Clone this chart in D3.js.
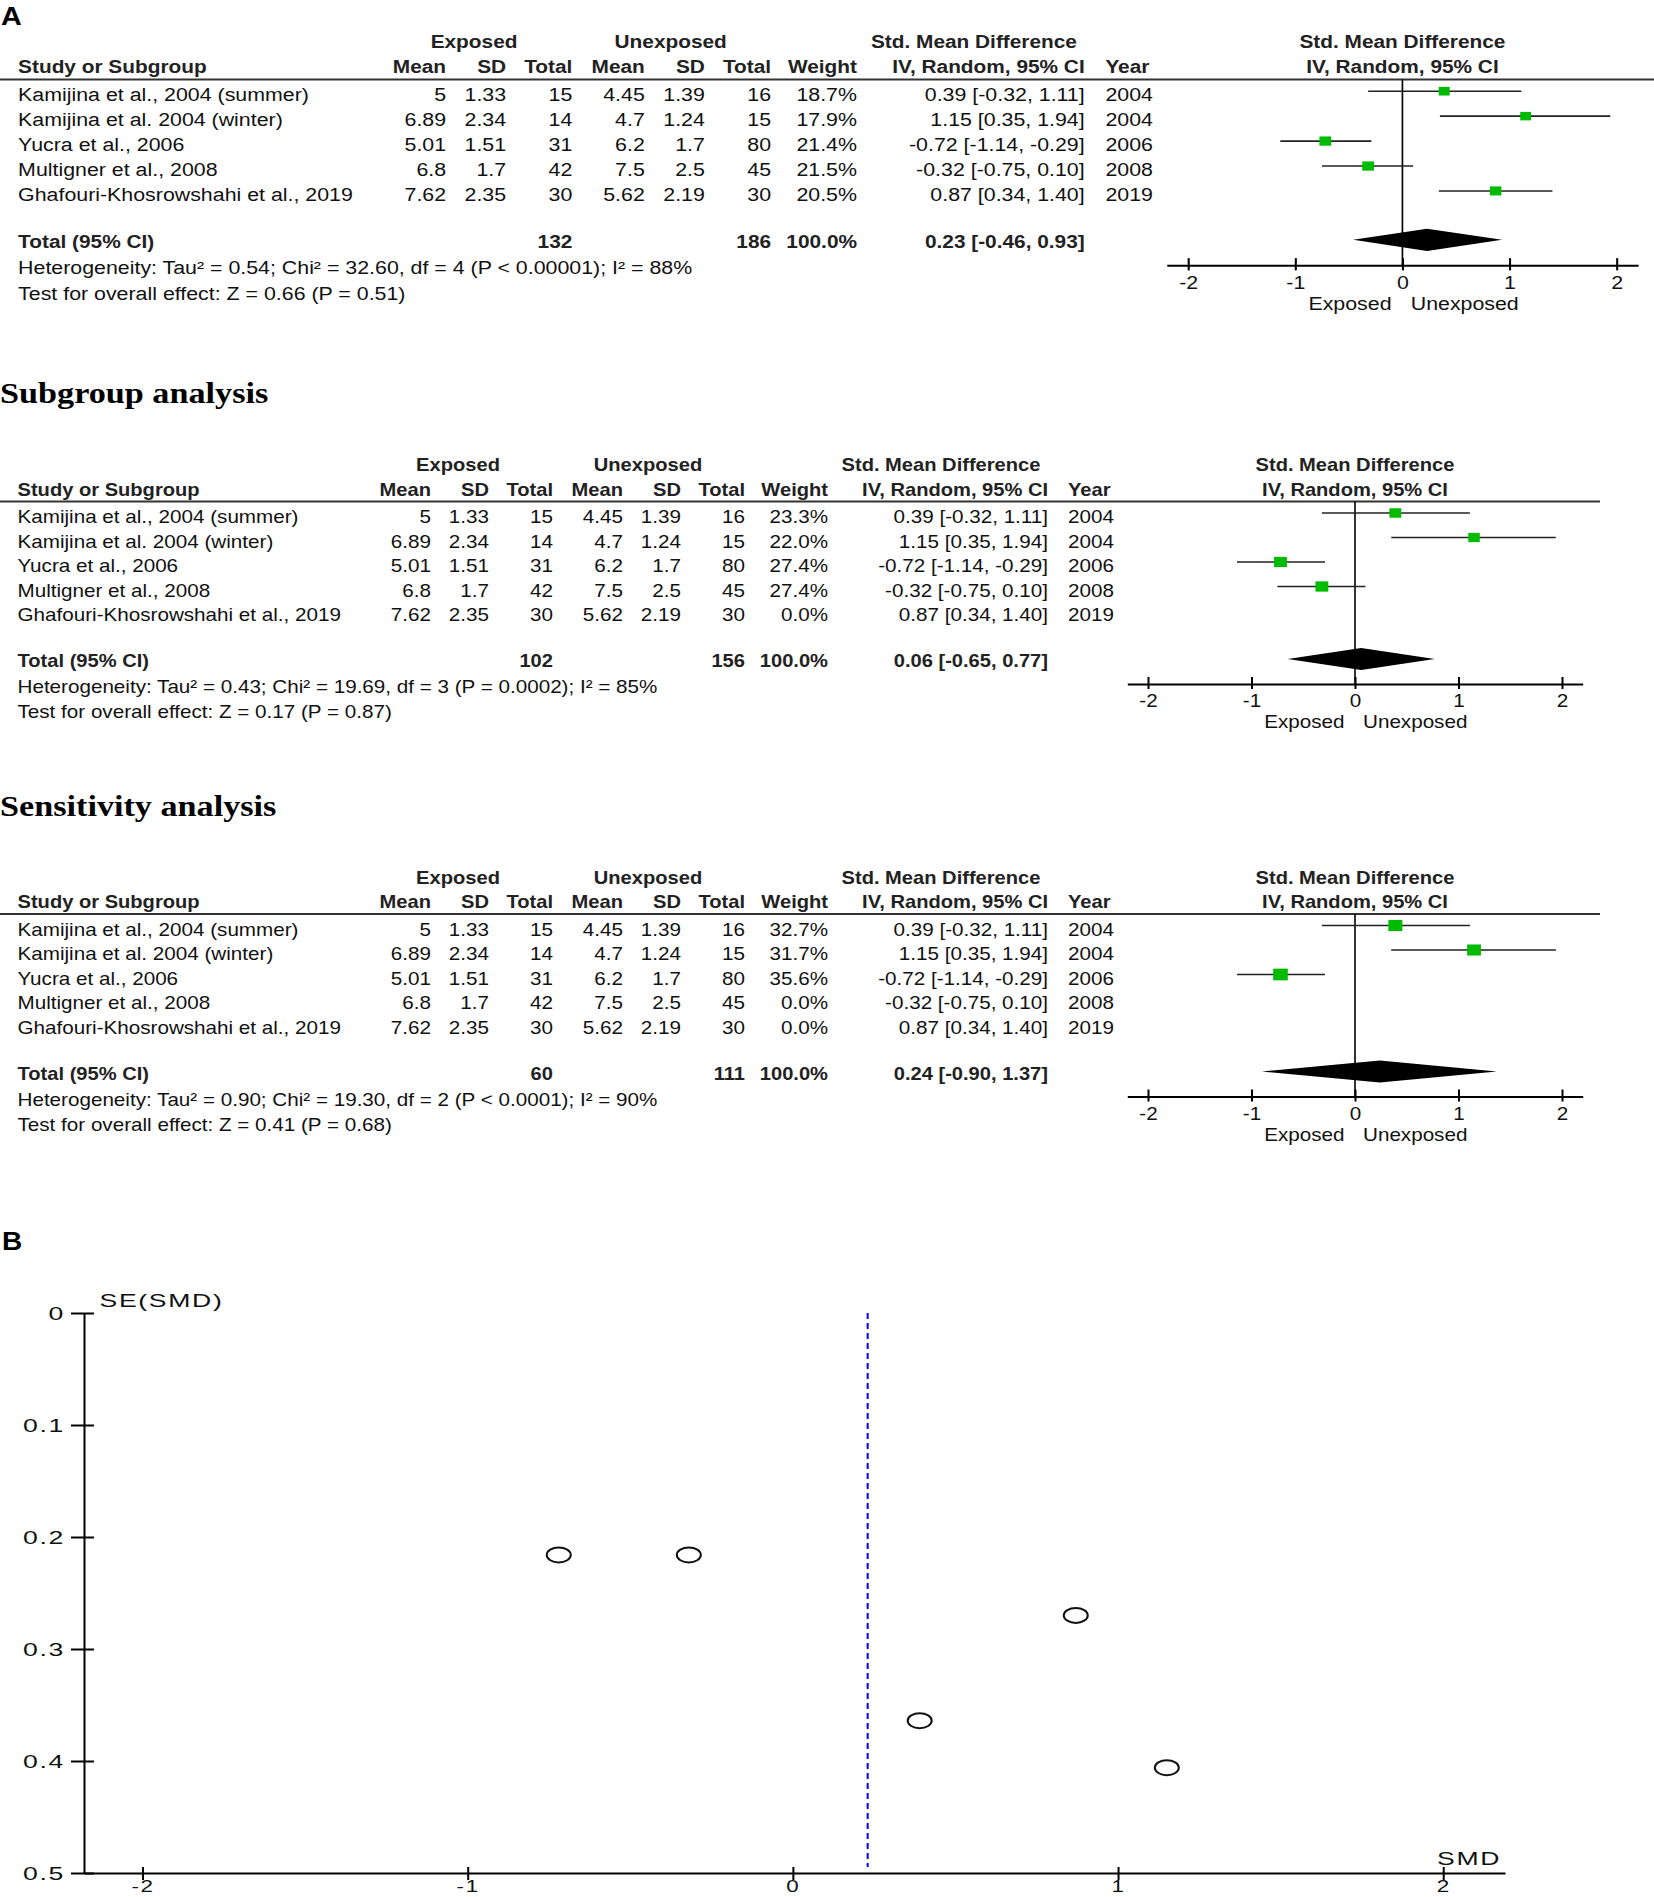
<!DOCTYPE html>
<html lang="en">
<head>
<meta charset="UTF-8">
<title>Forest plots and funnel plot</title>
<script src="https://cdn.jsdelivr.net/npm/d3@7"></script>
<style>
    body { margin: 0; background: #fff; }
    svg { display: block; font-family: "Liberation Sans", Arial, sans-serif; }
</style>
</head>
<body>
<svg id="fig" width="1654" height="1897"></svg>
<script>
    // donnees
    let studies = ['Kamijina et al., 2004 (summer)', 'Kamijina et al. 2004 (winter)', 'Yucra et al., 2006',
        'Multigner et al., 2008', 'Ghafouri-Khosrowshahi et al., 2019'];
    let expMean = [5, 6.89, 5.01, 6.8, 7.62];
    let expSD = [1.33, 2.34, 1.51, 1.7, 2.35];
    let expN = [15, 14, 31, 42, 30];
    let unMean = [4.45, 4.7, 6.2, 7.5, 5.62];
    let unSD = [1.39, 1.24, 1.7, 2.5, 2.19];
    let unN = [16, 15, 80, 45, 30];
    let smd = [0.39, 1.15, -0.72, -0.32, 0.87];
    let ciLo = [-0.32, 0.35, -1.14, -0.75, 0.34];
    let ciHi = [1.11, 1.94, -0.29, 0.10, 1.40];
    let years = [2004, 2004, 2006, 2008, 2019];
    let se = [0.364, 0.406, 0.216, 0.216, 0.270];

    let weightsAll = [18.7, 17.9, 21.4, 21.5, 20.5];
    let weightsSub = [23.3, 22.0, 27.4, 27.4, 0.0];
    let weightsSens = [32.7, 31.7, 35.6, 0.0, 0.0];

    let poolAll = {est: 0.23, lo: -0.46, hi: 0.93, nExp: 132, nUn: 186,
        het: 'Heterogeneity: Tau\u00b2 = 0.54; Chi\u00b2 = 32.60, df = 4 (P < 0.00001); I\u00b2 = 88%',
        test: 'Test for overall effect: Z = 0.66 (P = 0.51)'};
    let poolSub = {est: 0.06, lo: -0.65, hi: 0.77, nExp: 102, nUn: 156,
        het: 'Heterogeneity: Tau\u00b2 = 0.43; Chi\u00b2 = 19.69, df = 3 (P = 0.0002); I\u00b2 = 85%',
        test: 'Test for overall effect: Z = 0.17 (P = 0.87)'};
    let poolSens = {est: 0.24, lo: -0.90, hi: 1.37, nExp: 60, nUn: 111,
        het: 'Heterogeneity: Tau\u00b2 = 0.90; Chi\u00b2 = 19.30, df = 2 (P < 0.0001); I\u00b2 = 90%',
        test: 'Test for overall effect: Z = 0.41 (P = 0.68)'};

    let forestTicks = [-2, -1, 0, 1, 2];
    let funnelXTicks = [-2, -1, 0, 1, 2];
    let funnelYTicks = [0, 0.1, 0.2, 0.3, 0.4, 0.5];

    let svg = d3.select('#fig');
    let SX = 1.18, SXB = 1.15, FS = 17.5;
    let f2 = v => v.toFixed(2);

    function txt(g, x, y, s, anchor, bold, size, sx) {
        return g.append('text')
            .attr('transform', `translate(${x},${y}) scale(${sx || (bold ? SXB : SX)},1)`)
            .attr('text-anchor', anchor || 'start')
            .style('font-size', (size || FS) + 'px')
            .style('font-weight', bold ? 'bold' : 'normal')
            .attr('fill', bold ? '#222' : '#111')
            .text(s);
    }

    // colonnes du tableau (panneau de base)
    let col = {study: 17.5, eMean: 431, eSD: 489, eN: 553, uMean: 623, uSD: 681, uN: 745,
        w: 828, ci: 1048, year: 1068, hExp: 458, hUn: 648, hSmd: 941};
    let xF = d3.scaleLinear().domain([-2.2, 2.2]).range([1127.3, 1582.7]);
    let rowY = i => 21.5 + 24.5 * i;
    let sq = d3.scaleSqrt().domain([0, 40]).range([0, 15.5]);

    function forest(top, sx, sy, weights, pool) {
        let g = svg.append('g').attr('transform', `translate(0,${top}) scale(${sx},${sy})`);

        txt(g, col.hExp, -30.5, 'Exposed', 'middle', true);
        txt(g, col.hUn, -30.5, 'Unexposed', 'middle', true);
        txt(g, col.hSmd, -30.5, 'Std. Mean Difference', 'middle', true);
        txt(g, xF(0), -30.5, 'Std. Mean Difference', 'middle', true);

        txt(g, col.study, -6, 'Study or Subgroup', 'start', true);
        txt(g, col.eMean, -6, 'Mean', 'end', true);
        txt(g, col.eSD, -6, 'SD', 'end', true);
        txt(g, col.eN, -6, 'Total', 'end', true);
        txt(g, col.uMean, -6, 'Mean', 'end', true);
        txt(g, col.uSD, -6, 'SD', 'end', true);
        txt(g, col.uN, -6, 'Total', 'end', true);
        txt(g, col.w, -6, 'Weight', 'end', true);
        txt(g, col.ci, -6, 'IV, Random, 95% CI', 'end', true);
        txt(g, col.year, -6, 'Year', 'start', true);
        txt(g, xF(0), -6, 'IV, Random, 95% CI', 'middle', true);

        g.append('line').attr('x1', 0).attr('x2', 1600).attr('y1', 0).attr('y2', 0)
            .attr('stroke', '#333').attr('stroke-width', 2);

        studies.forEach((s, i) => {
            let y = rowY(i);
            txt(g, col.study, y, s, 'start');
            txt(g, col.eMean, y, String(expMean[i]), 'end');
            txt(g, col.eSD, y, String(expSD[i]), 'end');
            txt(g, col.eN, y, String(expN[i]), 'end');
            txt(g, col.uMean, y, String(unMean[i]), 'end');
            txt(g, col.uSD, y, String(unSD[i]), 'end');
            txt(g, col.uN, y, String(unN[i]), 'end');
            txt(g, col.w, y, weights[i].toFixed(1) + '%', 'end');
            txt(g, col.ci, y, `${f2(smd[i])} [${f2(ciLo[i])}, ${f2(ciHi[i])}]`, 'end');
            txt(g, col.year, y, String(years[i]), 'start');
        });

        let yTot = 165.5;
        txt(g, col.study, yTot, 'Total (95% CI)', 'start', true);
        txt(g, col.eN, yTot, String(pool.nExp), 'end', true);
        txt(g, col.uN, yTot, String(pool.nUn), 'end', true);
        txt(g, col.w, yTot, '100.0%', 'end', true);
        txt(g, col.ci, yTot, `${f2(pool.est)} [${f2(pool.lo)}, ${f2(pool.hi)}]`, 'end', true);
        txt(g, col.study, 191.5, pool.het, 'start');
        txt(g, col.study, 216.5, pool.test, 'start');

        let axisY = 182.5;
        // ligne du zero
        g.append('line').attr('x1', xF(0)).attr('x2', xF(0)).attr('y1', 0).attr('y2', axisY)
            .attr('stroke', '#000').attr('stroke-width', 1.6);

        let rows = studies.map((s, i) => ({i: i, w: weights[i]})).filter(d => d.w > 0);
        g.selectAll('line.ci').data(rows).enter().append('line')
            .attr('class', 'ci')
            .attr('x1', d => xF(ciLo[d.i])).attr('x2', d => xF(ciHi[d.i]))
            .attr('y1', d => rowY(d.i) - 10).attr('y2', d => rowY(d.i) - 10)
            .attr('stroke', '#222').attr('stroke-width', 1.6);
        g.selectAll('rect.sq').data(rows).enter().append('rect')
            .attr('class', 'sq')
            .attr('x', d => xF(smd[d.i]) - sq(d.w) / 2)
            .attr('y', d => rowY(d.i) - 10 - sq(d.w) * 0.4)
            .attr('width', d => sq(d.w))
            .attr('height', d => sq(d.w) * 0.8)
            .attr('fill', '#00bb00');

        let dy = yTot - 8;
        g.append('path')
            .attr('d', d3.line()([[xF(pool.lo), dy], [xF(pool.est), dy - 11], [xF(pool.hi), dy], [xF(pool.est), dy + 11]]) + 'Z')
            .attr('fill', '#000');

        let ax = g.append('g').attr('transform', `translate(0,${axisY})`)
            .call(d3.axisBottom(xF).tickValues(forestTicks).tickSizeInner(5).tickSizeOuter(0)
                .tickPadding(5.6).tickFormat(d => String(d)));
        ax.attr('font-size', null).attr('font-family', null);
        ax.select('.domain').attr('stroke', '#000').attr('stroke-width', 2);
        ax.selectAll('.tick line').attr('y1', -7).attr('stroke', '#000').attr('stroke-width', 2);
        ax.selectAll('.tick text').attr('transform', `scale(${SX},1)`)
            .style('font-size', FS + 'px').attr('fill', '#111');

        txt(g, xF(0) - 10.5, 226.5, 'Exposed', 'end');
        txt(g, xF(0) + 8, 226.5, 'Unexposed', 'start');
    }

    // panneau A
    txt(svg, 1, 25, 'A', 'start', true, 25, 1.15).attr('fill', '#000');
    forest(79.5, 1.035, 1.018, weightsAll, poolAll);

    // sous-groupes / sensibilite
    svg.append('text').attr('transform', 'translate(0,403) scale(1.14,1)')
        .style('font-family', '"Liberation Serif", "Times New Roman", serif')
        .style('font-weight', 'bold').style('font-size', '30px').text('Subgroup analysis');
    forest(501.5, 1, 1, weightsSub, poolSub);

    svg.append('text').attr('transform', 'translate(0,816) scale(1.14,1)')
        .style('font-family', '"Liberation Serif", "Times New Roman", serif')
        .style('font-weight', 'bold').style('font-size', '30px').text('Sensitivity analysis');
    forest(914, 1, 1, weightsSens, poolSens);

    // panneau B : funnel plot
    txt(svg, 2, 1250, 'B', 'start', true, 26, 1.08).attr('fill', '#000');

    let xS = d3.scaleLinear().domain([-2.18, 2.19]).range([84, 1505]);
    let yS = d3.scaleLinear().domain([0, 0.5]).range([1313, 1873]);
    let fb = svg.append('g');
    let FF = '19px', LS = '1.2px', FSX = 1.4;

    let axX = fb.append('g').attr('transform', `translate(0,${yS(0.5)})`)
        .call(d3.axisBottom(xS).tickValues(funnelXTicks).tickSizeInner(7).tickSizeOuter(0)
            .tickPadding(1).tickFormat(d => String(d)));
    let axY = fb.append('g').attr('transform', `translate(${xS(-2.18)},0)`)
        .call(d3.axisLeft(yS).tickValues(funnelYTicks).tickSizeInner(13).tickSizeOuter(0)
            .tickFormat(d3.format('~g')));
    [axX, axY].forEach(a => {
        a.attr('font-size', null).attr('font-family', null);
        a.select('.domain').attr('stroke', '#000').attr('stroke-width', 2);
        a.selectAll('.tick line').attr('stroke', '#000').attr('stroke-width', 2);
        a.selectAll('.tick text').style('font-size', FF).style('letter-spacing', LS).attr('fill', '#111');
    });
    axX.selectAll('.tick line').attr('y1', -6);
    axX.selectAll('.tick text').style('font-size', '16px').attr('transform', `scale(${FSX},1)`);
    axY.selectAll('.tick line').attr('x1', 10);
    axY.selectAll('.tick text').attr('x', 0).attr('transform', `translate(-19,0) scale(${FSX},1)`);

    txt(fb, 99.5, 1307, 'SE(SMD)', 'start', false, 19, FSX).style('letter-spacing', LS);
    txt(fb, 1437, 1864.5, 'SMD', 'start', false, 19, FSX).style('letter-spacing', LS);

    fb.append('line')
        .attr('x1', xS(poolAll.est)).attr('x2', xS(poolAll.est))
        .attr('y1', yS(0)).attr('y2', yS(0.5) - 6)
        .attr('stroke', '#0000ff').attr('stroke-width', 2).attr('stroke-dasharray', '6,4');

    fb.selectAll('ellipse').data(studies.map((s, i) => i)).enter().append('ellipse')
        .attr('cx', i => xS(smd[i]))
        .attr('cy', i => yS(se[i]))
        .attr('rx', 12).attr('ry', 7.5)
        .attr('fill', 'none').attr('stroke', '#111').attr('stroke-width', 2);
</script>
</body>
</html>
